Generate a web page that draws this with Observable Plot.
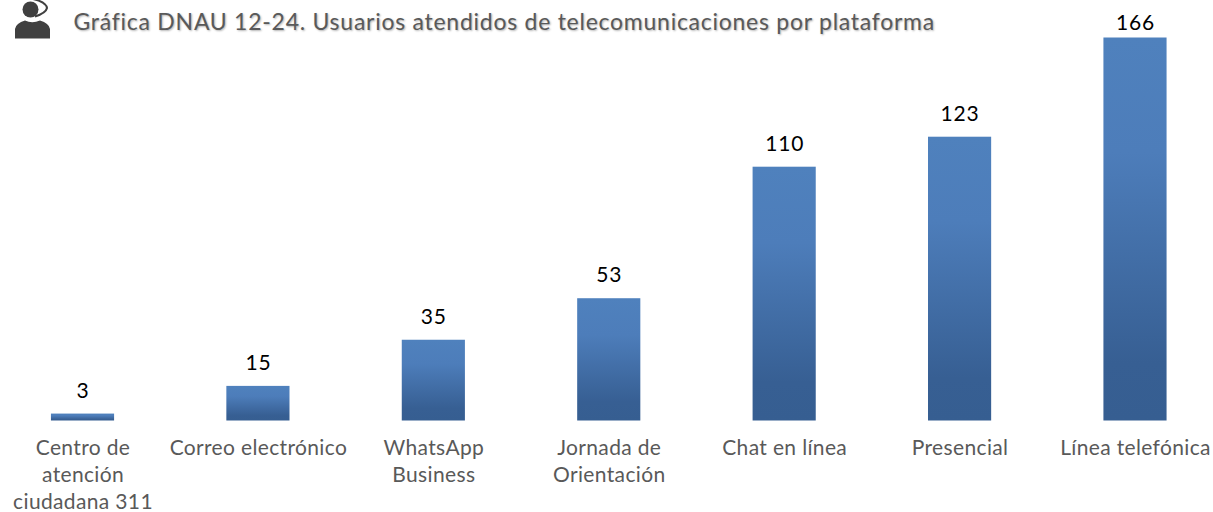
<!DOCTYPE html>
<html><head><meta charset="utf-8">
<script src="https://cdn.jsdelivr.net/npm/d3@7"></script>
<script src="https://cdn.jsdelivr.net/npm/@observablehq/plot@0.6"></script>
<style>
html,body{margin:0;padding:0;background:#fff;}
#wrap{position:relative;width:1213px;height:512px;overflow:hidden;}
#icon{position:absolute;left:14px;top:0;}
svg{display:block;}
</style></head><body>
<div id="wrap">
<svg id="icon" width="38" height="40" viewBox="0 0 38 40">
  <circle cx="16.5" cy="9.5" r="8" fill="#404040"/>
  <path d="M19 -1 Q 32 2 33 8 Q 32 13 21 16.5" fill="none" stroke="#404040" stroke-width="2"/>
  <path d="M1 38.5 V29 Q2 23 11 20.5 Q18 24 26 20.5 Q35 23 36 29 V38.5 Z" fill="#404040"/>
</svg>
</div>
<script>
const categories = ["Centro de\natención\nciudadana 311","Correo electrónico","WhatsApp\nBusiness","Jornada de\nOrientación","Chat en línea","Presencial","Línea telefónica"];
const values = [3,15,35,53,110,123,166];
const titleText = "Gráfica DNAU 12-24. Usuarios atendidos de telecomunicaciones por plataforma";
const rows = categories.map((c,i)=>({c,v:values[i]}));
const fontFam = "Lato, 'Open Sans', sans-serif";

const defs = () => {
  const svgNS = "http://www.w3.org/2000/svg";
  const g = document.createElementNS(svgNS,"defs");
  g.innerHTML = '<linearGradient id="barGrad" x1="0" y1="0" x2="0" y2="1"><stop offset="0" stop-color="#4f81bd"/><stop offset="0.3" stop-color="#4d7dba"/><stop offset="0.85" stop-color="#375f93"/><stop offset="1" stop-color="#365e91"/></linearGradient>';
  return g;
};

const chart = Plot.plot({
  width:1213, height:512,
  marginLeft:0, marginRight:0, marginTop:0, marginBottom:91,
  style:{fontFamily:fontFam, background:"#fff", overflow:"hidden"},
  x:{domain:categories, range:[-5.2,1222.7], paddingInner:0.64, paddingOuter:0.32, align:0.5, round:false, label:null},
  y:{domain:[0,166], range:[420.5,37.5], axis:null},
  marks:[
    defs,
    Plot.ruleY([0],{x1:0,x2:1213,stroke:"#d9d9d9",strokeWidth:2,y:0}),
    Plot.barY(rows,{x:"c",y:"v",fill:"url(#barGrad)"}),
    Plot.axisX({tickSize:0,tickPadding:0,fontSize:21,lineHeight:1.29,fill:"#595959",dy:14,label:null}),
    Plot.text(rows.filter(d=>d.v<166),{x:"c",y:"v",text:d=>String(d.v),dy:-23,fontSize:21,fill:"#000"}),
    Plot.text(rows.filter(d=>d.v>=166),{x:"c",y:"v",text:d=>String(d.v),dy:-15,fontSize:21,fill:"#000"}),
    Plot.text([titleText],{frameAnchor:"top-left",dx:73,dy:13.5,fontSize:23,fill:"#595959",textAnchor:"start",lineAnchor:"top"})
  ]
});
d3.select(chart).selectAll('g[aria-label="x-axis tick label"]').style("letter-spacing","0.35px");
d3.select(chart).selectAll('g[aria-label="text"]').style("letter-spacing","0.8px");
d3.select(chart).selectAll('text').filter(function(){return this.textContent===titleText;})
  .style("letter-spacing","0.74px").style("text-shadow","1px 1px 2px rgba(0,0,0,.3)");
document.getElementById("wrap").prepend(chart);
</script>
</body></html>
